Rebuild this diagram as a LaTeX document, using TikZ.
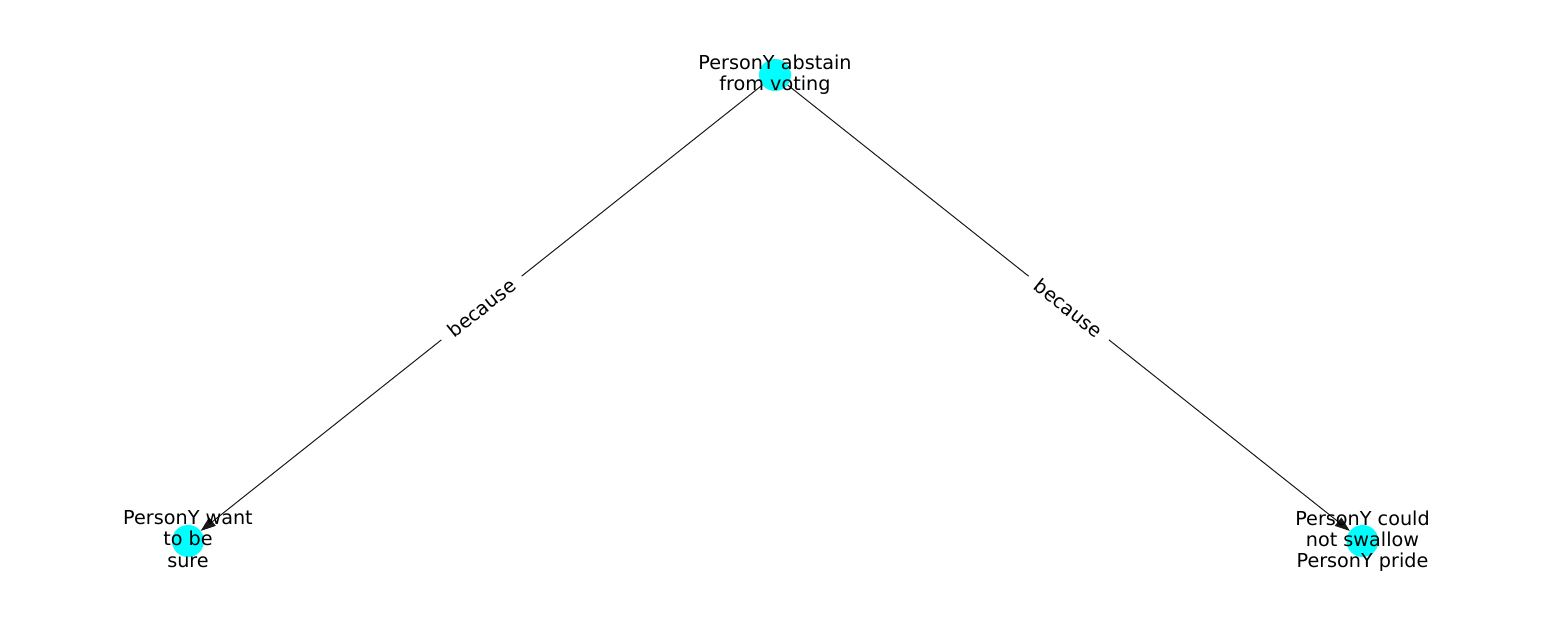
\documentclass[tikz,border=0pt]{standalone}
\usepackage{fontspec}
\setmainfont{DejaVu Sans}
\usetikzlibrary{arrows.meta}
\definecolor{nodecyan}{RGB}{0,255,255}
\begin{document}
\begin{tikzpicture}[x=1pt,y=-1pt,
  vertex/.style={circle,fill=nodecyan,draw=none,minimum size=32pt,inner sep=0pt},
  nodetext/.style={align=center,inner sep=0pt,font=\fontsize{19.2}{21.3}\selectfont,text=black},
  edge/.style={draw=black!90,line width=1pt,-{Triangle[length=15pt,width=10.5pt]}},
  elabel/.style={sloped,fill=white,rounded corners=4pt,inner xsep=11pt,inner ysep=6pt,font=\fontsize{19.2}{21.3}\selectfont,text=black}]
\useasboundingbox (0,0) rectangle (1550,616);
\node[vertex] (top) at (775,75) {};
\node[vertex] (left) at (188,541) {};
\node[vertex] (right) at (1362.5,541) {};
\draw[edge] (top) -- node[elabel] {because} (left);
\draw[edge] (top) -- node[elabel] {because} (right);
\node[nodetext] (toptext) at (775,75) {PersonY abstain\\from voting};
\node[nodetext] (lefttext) at (188,539) {PersonY want\\to be\\sure};
\node[nodetext] (righttext) at (1362.5,541) {PersonY could\\not swallow\\PersonY pride};
\end{tikzpicture}
\end{document}
